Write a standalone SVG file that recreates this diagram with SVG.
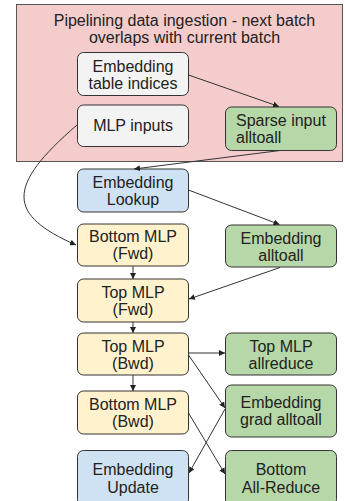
<svg xmlns="http://www.w3.org/2000/svg" width="345" height="501" viewBox="0 0 345 501">
<defs>
<marker id="ah" viewBox="0 0 8 8" refX="8" refY="4" markerWidth="6" markerHeight="6" markerUnits="userSpaceOnUse" orient="auto">
<path d="M0,0 L8,4 L0,8 z" fill="#222"/>
</marker>
</defs>
<style>
.t{font-family:"Liberation Sans",Arial,sans-serif;font-size:16px;fill:#222;text-anchor:middle}
.l{text-anchor:start}
.n{stroke:#333;stroke-width:1}
.g{fill:#f3f3f3}.b{fill:#cfe2f3}.y{fill:#fff2cc}.gr{fill:#b6d7a8}
.c{fill:none;stroke:#333;stroke-width:1;marker-end:url(#ah)}
</style>
<rect width="345" height="501" fill="#fff"/>
<g id="group">
<rect x="16.5" y="4.5" width="326" height="157" fill="#f4cccc" stroke="#555" stroke-width="1"/>
<text class="t" x="184.5" y="26">Pipelining data ingestion - next batch</text>
<text class="t" x="184.5" y="43">overlaps with current batch</text>
</g>
<g id="emb-indices"><rect class="n g" x="77.5" y="52.5" width="111" height="43" rx="6"/><text class="t" x="133" y="72">Embedding</text><text class="t" x="133" y="89">table indices</text></g>
<g id="mlp-inputs"><rect class="n g" x="77.5" y="105" width="111" height="41.5" rx="6"/><text class="t" x="133" y="131">MLP inputs</text></g>
<g id="sparse-alltoall"><rect class="n gr" x="225.5" y="107" width="111" height="43.5" rx="6"/><text class="t l" x="236" y="125.5">Sparse input</text><text class="t l" x="236" y="143">alltoall</text></g>
<g id="emb-lookup"><rect class="n b" x="77.5" y="169" width="111" height="43" rx="6"/><text class="t" x="133" y="187.5">Embedding</text><text class="t" x="133" y="205">Lookup</text></g>
<g id="bottom-fwd"><rect class="n y" x="77.5" y="224" width="111" height="42" rx="6"/><text class="t" x="133" y="242">Bottom MLP</text><text class="t" x="133" y="259">(Fwd)</text></g>
<g id="emb-alltoall"><rect class="n gr" x="225.5" y="225" width="111" height="42" rx="6"/><text class="t" x="281" y="243.5">Embedding</text><text class="t" x="281" y="260.5">alltoall</text></g>
<g id="top-fwd"><rect class="n y" x="77.5" y="279" width="111" height="43" rx="6"/><text class="t" x="133" y="298">Top MLP</text><text class="t" x="133" y="315">(Fwd)</text></g>
<g id="top-bwd"><rect class="n y" x="77.5" y="333" width="111" height="42" rx="6"/><text class="t" x="133" y="351.5">Top MLP</text><text class="t" x="133" y="368.5">(Bwd)</text></g>
<g id="top-allreduce"><rect class="n gr" x="225.5" y="333" width="111" height="42" rx="6"/><text class="t" x="281" y="351.5">Top MLP</text><text class="t" x="281" y="368.5">allreduce</text></g>
<g id="bottom-bwd"><rect class="n y" x="77.5" y="391" width="111" height="43" rx="6"/><text class="t" x="133" y="410">Bottom MLP</text><text class="t" x="133" y="427">(Bwd)</text></g>
<g id="emb-grad"><rect class="n gr" x="225.5" y="385" width="111" height="52" rx="6"/><text class="t" x="281" y="407.5">Embedding</text><text class="t" x="281" y="425">grad alltoall</text></g>
<g id="emb-update"><rect class="n b" x="77.5" y="450.5" width="111" height="55" rx="6"/><text class="t" x="133" y="475">Embedding</text><text class="t" x="133" y="493">Update</text></g>
<g id="bottom-allreduce"><rect class="n gr" x="225.5" y="450.5" width="111" height="55" rx="6"/><text class="t" x="281" y="475">Bottom</text><text class="t" x="281" y="493">All-Reduce</text></g>
<g id="connectors">
<path class="c" d="M188.5,75 L279,106.5"/>
<path class="c" d="M77,125 C5,187 8,215 76,245"/>
<path class="c" d="M280,150.5 L134,169"/>
<path class="c" d="M188.5,190 L279.5,224.5"/>
<path class="c" d="M133,266 L133,279"/>
<path class="c" d="M280,267.5 L189,299"/>
<path class="c" d="M133,322 L133,333"/>
<path class="c" d="M188.5,353 L225,353"/>
<path class="c" d="M188.5,355 L225,408"/>
<path class="c" d="M133,375 L133,391"/>
<path class="c" d="M188.5,413 L225,474"/>
<path class="c" d="M225,409 L189,473"/>
</g>
</svg>
